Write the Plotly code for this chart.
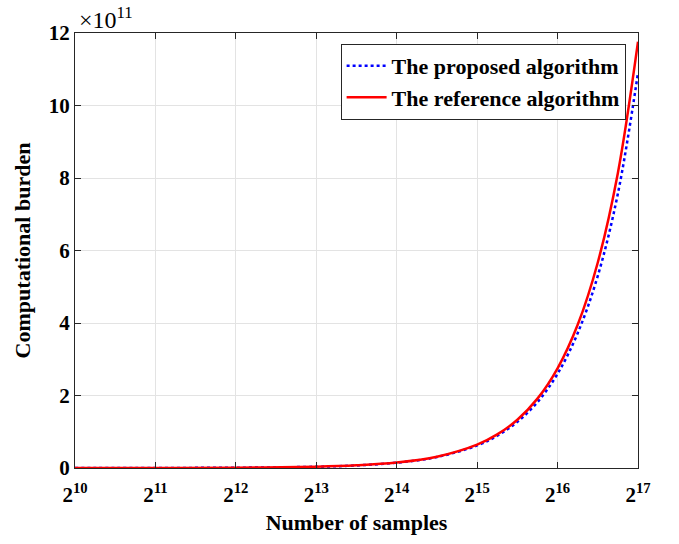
import plotly.graph_objects as go

# Number of samples as powers of two (exponent values)
exponents = [10, 11, 12, 13, 13.5, 14, 14.5, 15, 15.25, 15.5, 15.75, 16, 16.25, 16.5, 16.75, 17]
# Computational burden, in units of 1e11
reference_burden = [0.0004, 0.0018, 0.008, 0.035, 0.073, 0.150, 0.311, 0.644, 0.926, 1.331, 1.913, 2.75, 3.95, 5.67, 8.14, 11.76]
proposed_burden = [0.0004, 0.0018, 0.008, 0.034, 0.071, 0.146, 0.302, 0.622, 0.890, 1.272, 1.818, 2.60, 3.72, 5.30, 7.57, 10.90]

x_tick_exponents = [10, 11, 12, 13, 14, 15, 16, 17]
y_ticks = [0, 2, 4, 6, 8, 10, 12]

samples = [2 ** e for e in exponents]
font_family = "Liberation Serif"

fig = go.Figure()
fig.add_trace(go.Scatter(
    x=samples, y=proposed_burden, mode="lines", name="<b>The proposed algorithm</b>",
    line=dict(color="#0000ff", width=2.5, dash="dot", shape="spline"),
))
fig.add_trace(go.Scatter(
    x=samples, y=reference_burden, mode="lines", name="<b>The reference algorithm</b>",
    line=dict(color="#ff0000", width=2.5, shape="spline"),
))

axis_common = dict(
    showline=True, linecolor="#262626", linewidth=1, mirror="ticks",
    ticks="inside", ticklen=6, tickcolor="#262626",
    showgrid=True, gridcolor="#e3e3e3", gridwidth=1, zeroline=False,
    tickfont=dict(family=font_family, size=21, color="#000000"),
)

fig.update_xaxes(
    type="log",
    range=[10 * 0.30103, 17 * 0.30103],
    tickvals=[2 ** e for e in x_tick_exponents],
    ticktext=[f"<b>2<sup>{e}</sup></b>" for e in x_tick_exponents],
    ticklabelstandoff=8,
    title=dict(text="<b>Number of samples</b>", font=dict(family=font_family, size=22, color="#000000"), standoff=8),
    **axis_common,
)
fig.update_yaxes(
    range=[0, 12],
    tickvals=y_ticks,
    ticktext=[f"<b>{v}</b>" for v in y_ticks],
    title=dict(text="<b>Computational burden</b>", font=dict(family=font_family, size=22, color="#000000"), standoff=12),
    **axis_common,
)

fig.add_annotation(
    xref="paper", yref="paper", x=0.0, y=1.0, xanchor="left", yanchor="bottom",
    text="×10<sup>11</sup>", showarrow=False, xshift=2, yshift=-2,
    font=dict(family=font_family, size=24, color="#000000"),
)

fig.update_layout(
    width=679, height=544,
    margin=dict(l=75, r=41, t=33, b=76),
    paper_bgcolor="white", plot_bgcolor="white",
    showlegend=True,
    legend=dict(
        x=0.978, y=0.975, xanchor="right", yanchor="top",
        bgcolor="white", bordercolor="#262626", borderwidth=1,
        font=dict(family=font_family, size=22, color="#000000"),
        tracegroupgap=0, itemwidth=40,
    ),
)

fig.write_html("out.html")
